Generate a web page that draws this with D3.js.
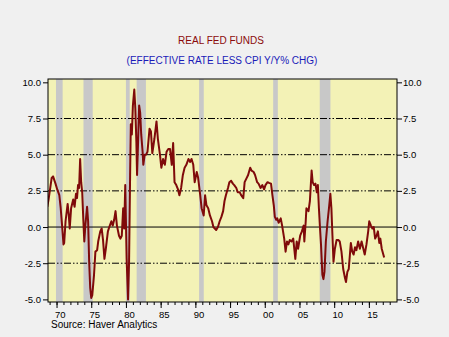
<!DOCTYPE html>
<html><head><meta charset="utf-8">
<script src="https://cdn.jsdelivr.net/npm/d3@7"></script>
<style>
html,body{margin:0;padding:0;background:#f0f0f0;}
svg{display:block;font-family:"Liberation Sans",Arial,sans-serif;}
</style></head>
<body>
<svg id="c" width="449" height="337"></svg>
<script>
// ---- data (decimal year, real fed funds %) ----
const dates = [1968.67,1968.85,1969.3,1969.5,1969.85,1970.1,1970.4,1970.6,1970.8,1971.0,1971.1,1971.3,1971.6,1971.75,1971.9,1972.1,1972.4,1972.6,1972.8,1972.95,1973.1,1973.25,1973.4,1973.55,1973.7,1973.85,1974.0,1974.15,1974.4,1974.55,1974.7,1974.85,1975.0,1975.15,1975.4,1975.6,1975.85,1976.0,1976.3,1976.5,1976.7,1976.9,1977.1,1977.4,1977.6,1977.9,1978.1,1978.3,1978.5,1978.7,1979.0,1979.2,1979.4,1979.6,1979.75,1979.9,1980.1,1980.3,1980.45,1980.6,1980.7,1980.85,1981.0,1981.2,1981.35,1981.5,1981.6,1981.75,1981.9,1982.05,1982.2,1982.4,1982.5,1982.7,1982.9,1983.1,1983.4,1983.6,1983.8,1984.1,1984.4,1984.6,1984.9,1985.1,1985.35,1985.6,1985.85,1986.1,1986.35,1986.6,1986.8,1987.0,1987.25,1987.5,1987.7,1987.95,1988.2,1988.45,1988.7,1989.0,1989.25,1989.45,1989.7,1989.9,1990.2,1990.4,1990.7,1990.9,1991.2,1991.4,1991.6,1991.85,1992.1,1992.4,1992.6,1992.8,1993.0,1993.25,1993.5,1993.75,1994.0,1994.2,1994.4,1994.7,1994.9,1995.15,1995.4,1995.6,1995.9,1996.1,1996.4,1996.6,1996.9,1997.1,1997.4,1997.6,1997.9,1998.1,1998.4,1998.6,1998.9,1999.1,1999.4,1999.65,1999.9,2000.1,2000.4,2000.6,2000.9,2001.1,2001.3,2001.45,2001.65,2001.8,2002.0,2002.3,2002.5,2002.8,2003.0,2003.2,2003.4,2003.6,2003.85,2004.1,2004.4,2004.6,2004.8,2005.1,2005.35,2005.6,2005.7,2005.9,2006.0,2006.3,2006.5,2006.75,2006.9,2007.1,2007.3,2007.5,2007.65,2007.8,2007.95,2008.1,2008.3,2008.45,2008.6,2008.8,2009.05,2009.25,2009.45,2009.6,2009.75,2009.9,2010.1,2010.35,2010.6,2010.8,2011.05,2011.3,2011.55,2011.7,2011.9,2012.1,2012.3,2012.4,2012.6,2012.8,2013.0,2013.2,2013.45,2013.7,2013.95,2014.2,2014.4,2014.65,2014.9,2015.05,2015.3,2015.5,2015.7,2015.9,2016.1,2016.3,2016.5,2016.65,2016.85,2017.2];
const values = [1.4,1.9,3.4,3.5,3.0,2.6,2.2,1.3,0.1,-1.2,-1.1,0.4,1.6,0.9,-0.1,1.3,1.9,1.4,2.3,2.0,2.9,2.7,4.7,3.1,2.4,0.6,-1.0,0.1,1.4,0.4,-2.4,-4.2,-4.9,-4.7,-3.3,-1.7,-1.6,-1.0,-0.3,-0.1,-0.9,-2.2,-1.5,-0.3,0.0,0.4,0.1,0.5,1.1,0.1,-0.6,-0.8,-0.6,1.3,-0.1,2.9,-2.2,-5.0,-2.4,3.6,7.1,6.4,8.4,9.5,8.2,5.9,3.6,5.9,8.4,7.9,6.4,5.2,4.3,5.0,5.0,5.2,6.8,6.6,5.1,6.1,7.3,6.1,5.0,4.1,4.7,4.3,5.2,5.4,5.4,4.3,5.8,3.1,2.9,2.6,2.2,2.7,3.6,4.1,4.3,4.7,4.5,4.7,4.3,3.1,3.8,3.4,2.2,1.3,0.8,2.2,1.5,1.3,0.8,0.4,0.0,-0.1,-0.2,0.0,0.4,0.7,1.1,1.8,2.2,2.7,3.1,3.2,3.0,2.9,2.7,2.4,2.4,2.2,2.0,3.1,3.4,3.6,4.1,3.9,3.8,3.6,3.1,3.0,2.7,2.9,2.6,2.9,3.1,3.05,3.0,2.2,1.5,0.7,0.5,0.6,0.3,0.6,0.1,-0.8,-1.7,-1.0,-1.2,-0.9,-1.0,-0.8,-2.2,-1.0,-1.5,-0.6,-0.3,0.1,-1.0,0.4,1.3,1.1,1.8,3.9,3.1,2.9,3.0,2.4,2.9,1.3,0.0,-1.2,-3.3,-3.6,-3.1,-1.0,0.4,1.3,2.3,1.3,-0.6,-2.4,-1.5,-0.9,-0.9,-1.0,-1.7,-2.9,-3.5,-3.8,-3.1,-2.9,-1.7,-1.1,-1.7,-1.9,-1.4,-1.6,-1.0,-1.5,-1.0,-1.5,-1.9,-1.2,-0.3,0.4,0.1,-0.1,0.0,-0.8,-0.6,-0.3,-1.1,-0.8,-1.5,-2.1];
// recessions (start, end)
const recStart = [1969.92,1973.88,1980.0,1981.54,1990.54,2001.21,2007.92];
const recEnd   = [1970.88,1975.21,1980.54,1982.88,1991.21,2001.88,2009.46];
const yTicks = [-5,-2.5,0,2.5,5,7.5,10];
const gridDashed = [-2.5,2.5,5,7.5];
const gridSolid = [0];
const labelYears = [1970,1975,1980,1985,1990,1995,2000,2005,2010,2015];
const title = "REAL FED FUNDS";
const subtitle = "(EFFECTIVE RATE LESS CPI Y/Y% CHG)";
const source = "Source: Haver Analytics";

// ---- layout ----
const L = 48, R = 397, T = 79, B = 302;
const svg = d3.select("#c");
const x = d3.scaleLinear().domain([1968.77, 2019.05]).range([L, R]);
const y = d3.scaleLinear().domain([-5.18, 10.23]).range([B, T]);

svg.append("rect").attr("width",449).attr("height",337).attr("fill","#f0f0f0");
svg.append("rect").attr("x",L).attr("y",T).attr("width",R-L).attr("height",B-T).attr("fill","#f3f2b6");

// recessions
svg.append("g").selectAll("rect").data(recStart).join("rect")
  .attr("x",(d)=>x(d)).attr("width",(d,i)=>x(recEnd[i])-x(d))
  .attr("y",T).attr("height",B-T).attr("fill","#c8c8c8");

// grid
svg.append("g").selectAll("line").data(gridDashed).join("line")
  .attr("x1",L).attr("x2",R).attr("y1",d=>y(d)).attr("y2",d=>y(d))
  .attr("stroke","#000").attr("stroke-width",1).attr("stroke-dasharray","7,2,1.5,2,1.5,2");
svg.append("g").selectAll("line").data(gridSolid).join("line")
  .attr("x1",L).attr("x2",R).attr("y1",d=>y(d)).attr("y2",d=>y(d))
  .attr("stroke","#000").attr("stroke-width",1);

// line
svg.append("defs").append("clipPath").attr("id","clp").append("rect")
  .attr("x",L).attr("y",T).attr("width",R-L).attr("height",B-T);
const pts = dates.map((d,i)=>[d,values[i]]);
svg.append("path").datum(pts)
  .attr("clip-path","url(#clp)")
  .attr("d",d3.line().x(d=>x(d[0])).y(d=>y(d[1])))
  .attr("fill","none").attr("stroke","#7f0a0a").attr("stroke-width",2).attr("stroke-linejoin","round");

// border
svg.append("rect").attr("x",L).attr("y",T).attr("width",R-L).attr("height",B-T)
  .attr("fill","none").attr("stroke","#000").attr("stroke-width",1);

// axes
const fmt = d=>d.toFixed(1);
const gl = svg.append("g").attr("transform",`translate(${L},0)`)
  .call(d3.axisLeft(y).tickValues(yTicks).tickSize(5).tickPadding(2).tickFormat(fmt));
const gr = svg.append("g").attr("transform",`translate(${R},0)`)
  .call(d3.axisRight(y).tickValues(yTicks).tickSize(5).tickPadding(1).tickFormat(fmt));
[gl,gr].forEach(g=>{g.select(".domain").remove();
  g.selectAll("text").attr("font-size",9.5).attr("fill","#000").attr("font-family","Liberation Sans, Arial, sans-serif");
  g.selectAll("line").attr("stroke","#000");});

const years = d3.range(1969,2019);
const gm = svg.append("g").attr("transform",`translate(0,${B})`)
  .call(d3.axisBottom(x).tickValues(years).tickSize(3).tickFormat(""));
const gM = svg.append("g").attr("transform",`translate(0,${B})`)
  .call(d3.axisBottom(x).tickValues(labelYears).tickSize(6).tickFormat(""));
const gLab = svg.append("g").attr("transform",`translate(0,${B})`)
  .call(d3.axisBottom(x).tickValues(labelYears.map(v=>v+0.45)).tickSize(0).tickPadding(9)
    .tickFormat(d=>String(Math.floor(d)%100).padStart(2,"0")));
[gm,gM,gLab].forEach(g=>{g.select(".domain").remove(); g.selectAll("line").attr("stroke","#000");});
gLab.selectAll("text").attr("font-size",9.5).attr("fill","#000").attr("font-family","Liberation Sans, Arial, sans-serif");

// titles
svg.append("text").attr("x",221).attr("y",44).attr("text-anchor","middle")
  .attr("font-size",10).attr("fill","#8b0a0a").text(title);
svg.append("text").attr("x",222).attr("y",64).attr("text-anchor","middle")
  .attr("font-size",10).attr("fill","#1a1ab8").text(subtitle);
svg.append("text").attr("x",51).attr("y",328)
  .attr("font-size",10).attr("fill","#000").text(source);
</script>
</body></html>
